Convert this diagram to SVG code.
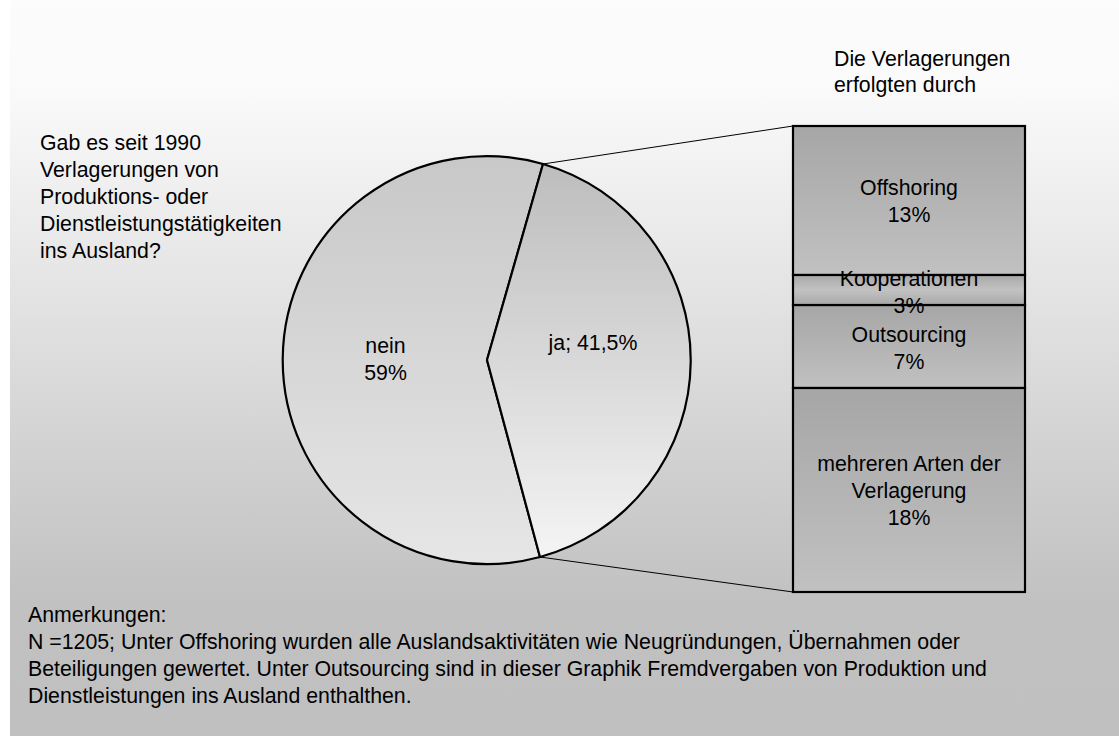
<svg xmlns="http://www.w3.org/2000/svg" width="1119" height="736" viewBox="0 0 1119 736">
<defs>
<linearGradient id="bg" x1="0" y1="0" x2="0" y2="736" gradientUnits="userSpaceOnUse">
<stop offset="0" stop-color="#fcfcfc"/>
<stop offset="0.12" stop-color="#fafafa"/>
<stop offset="0.82" stop-color="#c1c1c1"/>
<stop offset="1" stop-color="#c0c0c0"/>
</linearGradient>
<linearGradient id="gNein" x1="0" y1="0" x2="0" y2="1">
<stop offset="0" stop-color="#c8c8c8"/>
<stop offset="1" stop-color="#e6e6e6"/>
</linearGradient>
<linearGradient id="gJa" x1="0" y1="0" x2="0" y2="1">
<stop offset="0" stop-color="#bdbdbd"/>
<stop offset="1" stop-color="#f4f4f4"/>
</linearGradient>
<linearGradient id="gBar" x1="0" y1="0" x2="0" y2="1">
<stop offset="0" stop-color="#a6a6a6"/>
<stop offset="1" stop-color="#c1c1c1"/>
</linearGradient>
<linearGradient id="gBarK" x1="0" y1="0" x2="0" y2="1">
<stop offset="0" stop-color="#a8a8a8"/>
<stop offset="0.5" stop-color="#c2c2c2"/>
<stop offset="1" stop-color="#a8a8a8"/>
</linearGradient>
<style>
text{font-family:"Liberation Sans",Arial,sans-serif;font-size:21.3px;fill:#000}
.c{text-anchor:middle}
.slice{stroke:#000;stroke-width:2.2;stroke-linejoin:miter}
.seg{stroke:#000;stroke-width:2.2}
.conn{stroke:#000;stroke-width:1;fill:none}
</style>
</defs>
<rect x="0" y="0" width="1119" height="736" fill="#ffffff"/>
<rect x="10" y="0" width="1109" height="736" fill="url(#bg)"/>

<g id="connectors">
<line class="conn" x1="543" y1="164" x2="793" y2="126"/>
<line class="conn" x1="540" y1="557" x2="793" y2="592"/>
</g>

<g id="question">
<text x="40" y="149.5">Gab es seit 1990</text>
<text x="40" y="176.5">Verlagerungen von</text>
<text x="40" y="203.5">Produktions- oder</text>
<text x="40" y="230.5">Dienstleistungstätigkeiten</text>
<text x="40" y="257.5">ins Ausland?</text>
</g>

<g id="bar-title">
<text x="834" y="65.7">Die Verlagerungen</text>
<text x="834" y="91.7">erfolgten durch</text>
</g>

<g id="slice-nein">
<path class="slice" fill="url(#gNein)" d="M487,360 L543,164 A204,204 0 1,0 540,557 Z"/>
<text class="c" x="385.5" y="353">nein</text>
<text class="c" x="385.5" y="380">59%</text>
</g>

<g id="slice-ja">
<path class="slice" fill="url(#gJa)" d="M487,360 L543,164 A204,204 0 0,1 540,557 Z"/>
<text class="c" x="593" y="350">ja; 41,5%</text>
</g>

<g id="seg-offshoring">
<rect class="seg" x="793" y="126" width="232" height="149" fill="url(#gBar)"/>
<text class="c" x="909" y="195">Offshoring</text>
<text class="c" x="909" y="222">13%</text>
</g>

<g id="seg-outsourcing">
<rect class="seg" x="793" y="305" width="232" height="83" fill="url(#gBar)"/>
<text class="c" x="909" y="342">Outsourcing</text>
<text class="c" x="909" y="369">7%</text>
</g>

<g id="seg-mehrere">
<rect class="seg" x="793" y="388" width="232" height="204" fill="url(#gBar)"/>
<text class="c" x="909" y="471">mehreren Arten der</text>
<text class="c" x="909" y="497.5">Verlagerung</text>
<text class="c" x="909" y="524.5">18%</text>
</g>

<g id="seg-kooperationen">
<rect class="seg" x="793" y="275" width="232" height="30" fill="url(#gBarK)"/>
<text class="c" x="909" y="285.5">Kooperationen</text>
<text class="c" x="909" y="312.5">3%</text>
</g>

<g id="notes">
<text x="28" y="622">Anmerkungen:</text>
<text x="28" y="649">N =1205; Unter Offshoring wurden alle Auslandsaktivitäten wie Neugründungen, Übernahmen oder</text>
<text x="28" y="676">Beteiligungen gewertet. Unter Outsourcing sind in dieser Graphik Fremdvergaben von Produktion und</text>
<text x="28" y="703">Dienstleistungen ins Ausland enthalthen.</text>
</g>
</svg>
